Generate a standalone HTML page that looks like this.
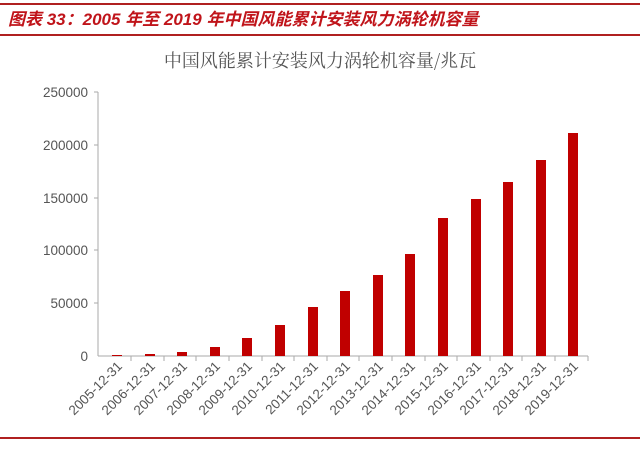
<!DOCTYPE html>
<html><head><meta charset="utf-8"><style>
body{margin:0;background:#fff;width:640px;height:447px;overflow:hidden}
</style></head><body>
<svg width="640" height="447" xmlns="http://www.w3.org/2000/svg" font-family="Liberation Sans, 'Noto Sans CJK SC', sans-serif">
<line x1="0" y1="4" x2="640" y2="4" stroke="#b02020" stroke-width="2"/>
<line x1="0" y1="35" x2="640" y2="35" stroke="#b02020" stroke-width="2"/>
<text x="8" y="25" fill="#c0141a" font-size="17" font-weight="bold" font-style="italic">图表 33：2005 年至 2019 年中国风能累计安装风力涡轮机容量</text>
<text x="320" y="67" fill="#555" font-size="18" text-anchor="middle" font-family="'Noto Serif CJK SC', serif">中国风能累计安装风力涡轮机容量/兆瓦</text>
<g fill="#555" font-size="13.5" text-anchor="end">
<text x="88" y="97">250000</text><text x="88" y="150">200000</text><text x="88" y="203">150000</text><text x="88" y="255">100000</text><text x="88" y="308">50000</text><text x="88" y="361">0</text>
</g>
<g stroke="#aaa" stroke-width="1">
<line x1="98" y1="92" x2="98" y2="356"/>
<line x1="94" y1="92" x2="98" y2="92"/><line x1="94" y1="145" x2="98" y2="145"/><line x1="94" y1="198" x2="98" y2="198"/><line x1="94" y1="250" x2="98" y2="250"/><line x1="94" y1="303" x2="98" y2="303"/>
<line x1="98" y1="356" x2="588" y2="356"/>
</g>
<g fill="#c00000">
<rect x="112" y="355" width="10" height="1"/>
<rect x="145" y="354" width="10" height="2"/>
<rect x="177" y="352" width="10" height="4"/>
<rect x="210" y="347" width="10" height="9"/>
<rect x="242" y="338" width="10" height="18"/>
<rect x="275" y="325" width="10" height="31"/>
<rect x="308" y="307" width="10" height="49"/>
<rect x="340" y="291" width="10" height="65"/>
<rect x="373" y="275" width="10" height="81"/>
<rect x="405" y="254" width="10" height="102"/>
<rect x="438" y="218" width="10" height="138"/>
<rect x="471" y="199" width="10" height="157"/>
<rect x="503" y="182" width="10" height="174"/>
<rect x="536" y="160" width="10" height="196"/>
<rect x="568" y="133" width="10" height="223"/>
</g>
<g stroke="#aaa">
<line x1="131" y1="356" x2="131" y2="361"/><line x1="164" y1="356" x2="164" y2="361"/><line x1="196" y1="356" x2="196" y2="361"/><line x1="229" y1="356" x2="229" y2="361"/><line x1="262" y1="356" x2="262" y2="361"/><line x1="294" y1="356" x2="294" y2="361"/><line x1="327" y1="356" x2="327" y2="361"/><line x1="359" y1="356" x2="359" y2="361"/><line x1="392" y1="356" x2="392" y2="361"/><line x1="425" y1="356" x2="425" y2="361"/><line x1="457" y1="356" x2="457" y2="361"/><line x1="490" y1="356" x2="490" y2="361"/><line x1="522" y1="356" x2="522" y2="361"/><line x1="555" y1="356" x2="555" y2="361"/><line x1="588" y1="356" x2="588" y2="361"/>
</g>
<g fill="#555" font-size="13.5" text-anchor="end">
<text transform="translate(123,367) rotate(-45)">2005-12-31</text>
<text transform="translate(156,367) rotate(-45)">2006-12-31</text>
<text transform="translate(188,367) rotate(-45)">2007-12-31</text>
<text transform="translate(221,367) rotate(-45)">2008-12-31</text>
<text transform="translate(253,367) rotate(-45)">2009-12-31</text>
<text transform="translate(286,367) rotate(-45)">2010-12-31</text>
<text transform="translate(319,367) rotate(-45)">2011-12-31</text>
<text transform="translate(351,367) rotate(-45)">2012-12-31</text>
<text transform="translate(384,367) rotate(-45)">2013-12-31</text>
<text transform="translate(416,367) rotate(-45)">2014-12-31</text>
<text transform="translate(449,367) rotate(-45)">2015-12-31</text>
<text transform="translate(482,367) rotate(-45)">2016-12-31</text>
<text transform="translate(514,367) rotate(-45)">2017-12-31</text>
<text transform="translate(547,367) rotate(-45)">2018-12-31</text>
<text transform="translate(579,367) rotate(-45)">2019-12-31</text>
</g>
<line x1="0" y1="438" x2="640" y2="438" stroke="#b02020" stroke-width="2"/>
</svg>
</body></html>
